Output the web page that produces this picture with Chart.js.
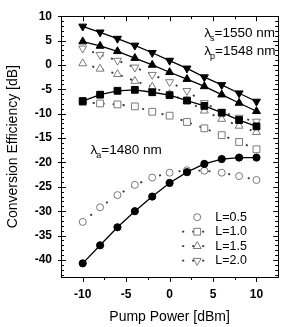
<!DOCTYPE html>
<html>
<head>
<meta charset="utf-8">
<script src="https://cdn.jsdelivr.net/npm/chart.js@4.4.1/dist/chart.umd.min.js"></script>
<style>
  html, body { margin: 0; padding: 0; background: #fff; }
</style>
</head>
<body>
<canvas id="chart" width="284" height="327"></canvas>
<script>
// pump power steps [dBm]
const pumpPower = [-10, -8, -6, -4, -2, 0, 2, 4, 6, 8, 10];

// conversion efficiency [dB], filled markers (solid line) and open markers (dotted)
const l05Filled = [-40.7, -37.0, -33.3, -30.0, -27.0, -24.2, -22.0, -20.3, -19.3, -19.0, -19.0];
const l05Open   = [-32.2, -29.2, -26.7, -24.6, -23.1, -22.1, -21.6, -21.7, -22.1, -22.8, -23.6];
const l10Filled = [-7.4, -6.1, -5.3, -5.1, -5.6, -6.2, -7.3, -8.4, -9.8, -11.3, -12.6];
const l10Open   = [-7.6, -7.9, -8.1, -8.5, -9.6, -10.4, -11.7, -13.0, -14.4, -15.8, -17.3];
const l15Filled = [4.8, 3.9, 2.8, 1.4, 0.0, -1.5, -2.9, -4.4, -6.1, -7.8, -9.5];
const l15Open   = [0.3, -0.8, -1.9, -3.3, -4.5, -6.0, -7.4, -9.4, -11.1, -12.5, -13.8];
const l20Filled = [7.9, 6.7, 5.4, 4.0, 2.5, 0.9, -0.7, -2.5, -4.1, -5.8, -7.5];
const l20Open   = [3.4, 2.1, 0.9, -0.5, -2.0, -3.5, -5.3, -7.8, -9.6, -10.8, -11.6];

const legendLabels = ["L=0.5", "L=1.0", "L=1.5", "L=2.0"];
const xTickValues = [-10, -5, 0, 5, 10];
const yTickValues = [10, 5, 0, -5, -10, -15, -20, -25, -30, -35, -40];

function pts(ys) {
  return pumpPower.map((x, i) => ({x: x, y: ys[i]}));
}

function filledSet(ys, style, radius, rot) {
  return {
    data: pts(ys),
    borderColor: "#000",
    borderWidth: 1.3,
    backgroundColor: "#000",
    pointStyle: style,
    pointRadius: radius,
    pointRotation: rot || 0,
    pointBackgroundColor: "#000",
    pointBorderColor: "#000",
    pointBorderWidth: 1,
    order: 1
  };
}

function openSet(ys, style, radius, rot) {
  return {
    data: pts(ys),
    borderColor: "#333",
    borderWidth: 1.8,
    borderDash: [2, 8],
    backgroundColor: "#fff",
    pointStyle: style,
    pointRadius: radius,
    pointRotation: rot || 0,
    pointBackgroundColor: "#fff",
    pointBorderColor: "#7a7a7a",
    pointBorderWidth: 1,
    order: 2
  };
}

const openSets = [
  openSet(l05Open, "circle", 3.5),
  openSet(l10Open, "rect", 4.8),
  openSet(l15Open, "triangle", 4.6),
  openSet(l20Open, "triangle", 4.6, 180)
];

const datasets = openSets.concat([
  filledSet(l05Filled, "circle", 3.6),
  filledSet(l10Filled, "rect", 4.8),
  filledSet(l15Filled, "triangle", 4.6),
  filledSet(l20Filled, "triangle", 4.6, 180)
]);

function drawLambda(ctx, x, y, sub, rest) {
  ctx.font = "13.5px 'Liberation Sans', Arial, sans-serif";
  ctx.textBaseline = "middle";
  ctx.textAlign = "left";
  ctx.fillStyle = "#000";
  ctx.fillText("\u03bb", x, y);
  let w = ctx.measureText("\u03bb").width;
  ctx.font = "9px 'Liberation Sans', Arial, sans-serif";
  ctx.fillText(sub, x + w - 1, y + 5);
  let w2 = ctx.measureText(sub).width;
  ctx.font = "13.5px 'Liberation Sans', Arial, sans-serif";
  ctx.fillText(rest, x + w + w2 - 1, y);
}

function drawMarker(ctx, style, x, y, r, rot) {
  ctx.beginPath();
  if (style === "circle") {
    ctx.arc(x, y, r, 0, Math.PI * 2);
  } else if (style === "rect") {
    let s = r * Math.SQRT1_2;
    ctx.rect(x - s, y - s, 2 * s, 2 * s);
  } else {
    let a = (rot || 0) * Math.PI / 180;
    for (let k = 0; k < 3; k++) {
      let t = a - Math.PI / 2 + k * 2 * Math.PI / 3;
      let px = x + Math.cos(t) * r, py = y + Math.sin(t) * r;
      if (k === 0) ctx.moveTo(px, py); else ctx.lineTo(px, py);
    }
    ctx.closePath();
  }
  ctx.fill();
  ctx.stroke();
}

const framePlugin = {
  id: "frame",
  afterDatasetsDraw(chart) {
    const ctx = chart.ctx;
    const a = chart.chartArea;
    const xs = chart.scales.x, ys = chart.scales.y;
    ctx.save();
    ctx.strokeStyle = "#000";
    ctx.lineWidth = 1;
    ctx.strokeRect(Math.round(a.left) + 0.5, Math.round(a.top) + 0.5,
                   Math.round(a.right - a.left), Math.round(a.bottom - a.top));

    // x ticks: bottom outward, top inward
    for (let v = -10; v <= 10; v += 2.5) {
      let px = Math.round(xs.getPixelForValue(v)) + 0.5;
      let major = v % 5 === 0;
      let len = major ? 5 : 3;
      ctx.beginPath();
      ctx.moveTo(px, a.bottom); ctx.lineTo(px, a.bottom + len);
      ctx.moveTo(px, a.top); ctx.lineTo(px, a.top + len);
      ctx.stroke();
    }
    // y ticks every 1 dB
    for (let v = -43; v <= 10; v += 1) {
      let py = Math.round(ys.getPixelForValue(v)) + 0.5;
      let major = v % 5 === 0;
      ctx.beginPath();
      if (major) {
        ctx.moveTo(a.left - 3, py); ctx.lineTo(a.left + 5, py);
        ctx.moveTo(a.right, py); ctx.lineTo(a.right - 5, py);
      } else {
        ctx.moveTo(a.left, py); ctx.lineTo(a.left + 3, py);
        ctx.moveTo(a.right, py); ctx.lineTo(a.right - 3, py);
      }
      ctx.stroke();
    }

    // wavelength notes
    drawLambda(ctx, xs.getPixelForValue(4.0), ys.getPixelForValue(6.4), "s", "=1550 nm");
    drawLambda(ctx, xs.getPixelForValue(4.0), ys.getPixelForValue(2.8), "p", "=1548 nm");
    drawLambda(ctx, xs.getPixelForValue(-9.1), ys.getPixelForValue(-17.6), "a", "=1480 nm");

    // legend inside plot (open-marker series)
    const lx = a.right - 96, ly = a.top + 201;
    openSets.forEach((ds, i) => {
      let y = ly + i * 14.5;
      if (i > 0) {
        ctx.save();
        ctx.strokeStyle = ds.borderColor;
        ctx.lineWidth = ds.borderWidth;
        ctx.setLineDash([2, 8]);
        ctx.beginPath();
        ctx.moveTo(lx, y); ctx.lineTo(lx + 26, y);
        ctx.stroke();
        ctx.restore();
      }
      ctx.save();
      ctx.fillStyle = "#fff";
      ctx.strokeStyle = ds.pointBorderColor;
      ctx.lineWidth = 1;
      drawMarker(ctx, ds.pointStyle, lx + 15, y, ds.pointRadius, ds.pointRotation);
      ctx.restore();
      ctx.fillStyle = "#000";
      ctx.font = "12.5px 'Liberation Sans', Arial, sans-serif";
      ctx.textAlign = "left";
      ctx.textBaseline = "middle";
      ctx.fillText(legendLabels[i], lx + 33, y);
    });
    ctx.restore();
  }
};

new Chart(document.getElementById("chart"), {
  type: "line",
  data: { datasets: datasets },
  options: {
    responsive: false,
    animation: false,
    layout: { padding: { top: 7, right: 5, left: 0, bottom: 0 } },
    plugins: { legend: { display: false }, tooltip: { enabled: false } },
    elements: { line: { tension: 0 } },
    scales: {
      x: {
        type: "linear",
        min: -12.5,
        max: 12.5,
        afterFit(scale) { scale.height = 50; },
        afterBuildTicks(scale) { scale.ticks = xTickValues.map(v => ({value: v})); },
        grid: { display: false, drawTicks: false },
        border: { display: false },
        ticks: {
          padding: 10,
          color: "#000",
          font: { family: "'Liberation Sans', Arial, sans-serif", size: 12, weight: "bold" }
        },
        title: {
          display: true,
          text: "Pump Power [dBm]",
          color: "#000",
          padding: { top: 0, bottom: 1 },
          font: { family: "'Liberation Sans', Arial, sans-serif", size: 14 }
        }
      },
      y: {
        type: "linear",
        min: -43.5,
        max: 10,
        afterFit(scale) { scale.width = 61; },
        afterBuildTicks(scale) { scale.ticks = yTickValues.map(v => ({value: v})); },
        grid: { display: false, drawTicks: false },
        border: { display: false },
        ticks: {
          padding: 9,
          color: "#000",
          font: { family: "'Liberation Sans', Arial, sans-serif", size: 12, weight: "bold" }
        },
        title: {
          display: true,
          text: "Conversion Efficiency [dB]",
          color: "#000",
          padding: { top: 5, bottom: 0 },
          font: { family: "'Liberation Sans', Arial, sans-serif", size: 14 }
        }
      }
    }
  },
  plugins: [framePlugin]
});
</script>
</body>
</html>
